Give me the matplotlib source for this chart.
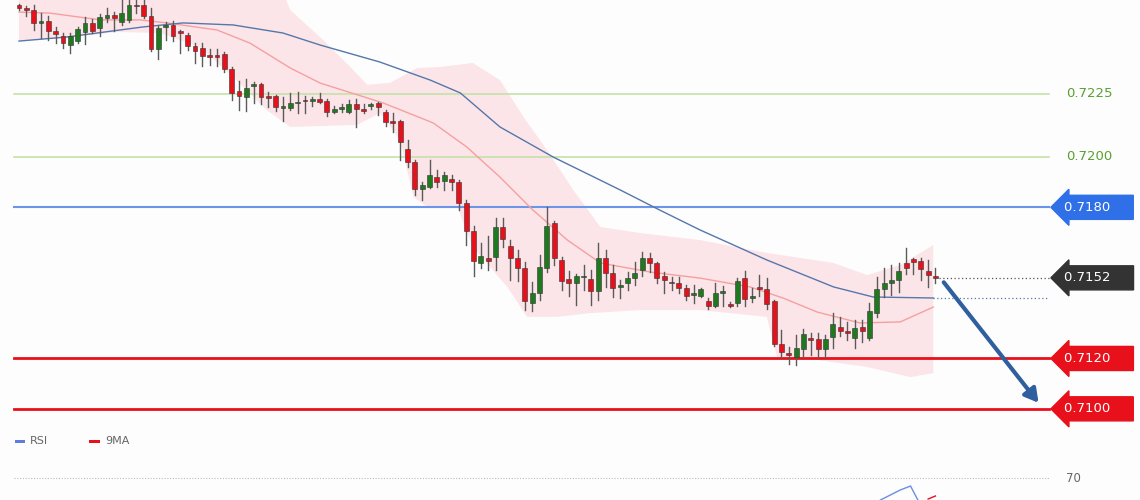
import matplotlib
matplotlib.use("Agg")
import matplotlib.pyplot as plt
import numpy as np

# ── Candles (OHLC) ──
opens = [0.72603, 0.72591, 0.72583, 0.72532, 0.72540, 0.72500, 0.72480, 0.72444, 0.72460, 0.72496,
         0.72532, 0.72512, 0.72552, 0.72563, 0.72536, 0.72544, 0.72603, 0.72603, 0.72559, 0.72428,
         0.72516, 0.72524, 0.72496, 0.72484, 0.72440, 0.72432, 0.72405, 0.72405, 0.72409, 0.72349,
         0.72262, 0.72238, 0.72282, 0.72290, 0.72242, 0.72242, 0.72194, 0.72194, 0.72214, 0.72226,
         0.72222, 0.72230, 0.72222, 0.72178, 0.72190, 0.72178, 0.72210, 0.72190, 0.72202, 0.72214,
         0.72178, 0.72139, 0.72143, 0.72031, 0.71980, 0.71873, 0.71881, 0.71920, 0.71904, 0.71912,
         0.71900, 0.71817, 0.71706, 0.71579, 0.71599, 0.71603, 0.71722, 0.71646, 0.71599, 0.71559,
         0.71420, 0.71460, 0.71559, 0.71737, 0.71591, 0.71515, 0.71499, 0.71523, 0.71515, 0.71468,
         0.71599, 0.71539, 0.71484, 0.71499, 0.71519, 0.71551, 0.71599, 0.71579, 0.71527, 0.71503,
         0.71499, 0.71480, 0.71452, 0.71448, 0.71428, 0.71408, 0.71460, 0.71416, 0.71420, 0.71519,
         0.71440, 0.71484, 0.71476, 0.71428, 0.71257, 0.71222, 0.71206, 0.71237, 0.71279, 0.71279,
         0.71237, 0.71285, 0.71325, 0.71309, 0.71281, 0.71325, 0.71281, 0.71380, 0.71476, 0.71499,
         0.71511, 0.71579, 0.71595, 0.71587, 0.71547, 0.71527]
highs = [0.72607, 0.72599, 0.72603, 0.72571, 0.72559, 0.72516, 0.72492, 0.72492, 0.72516, 0.72556,
         0.72548, 0.72567, 0.72591, 0.72575, 0.72623, 0.72623, 0.72623, 0.72623, 0.72591, 0.72520,
         0.72536, 0.72540, 0.72504, 0.72492, 0.72452, 0.72452, 0.72428, 0.72428, 0.72417, 0.72357,
         0.72301, 0.72309, 0.72297, 0.72293, 0.72258, 0.72246, 0.72238, 0.72254, 0.72258, 0.72242,
         0.72238, 0.72254, 0.72230, 0.72202, 0.72210, 0.72226, 0.72230, 0.72210, 0.72214, 0.72218,
         0.72186, 0.72174, 0.72147, 0.72067, 0.71988, 0.71900, 0.71988, 0.71948, 0.71940, 0.71928,
         0.71908, 0.71829, 0.71726, 0.71658, 0.71686, 0.71758, 0.71758, 0.71670, 0.71631, 0.71583,
         0.71503, 0.71611, 0.71801, 0.71745, 0.71603, 0.71547, 0.71535, 0.71571, 0.71551, 0.71658,
         0.71631, 0.71571, 0.71511, 0.71543, 0.71583, 0.71623, 0.71619, 0.71583, 0.71543, 0.71523,
         0.71523, 0.71492, 0.71492, 0.71480, 0.71440, 0.71499, 0.71488, 0.71424, 0.71519, 0.71547,
         0.71480, 0.71531, 0.71519, 0.71432, 0.71313, 0.71245, 0.71293, 0.71317, 0.71301, 0.71301,
         0.71293, 0.71380, 0.71365, 0.71345, 0.71353, 0.71353, 0.71420, 0.71523, 0.71559, 0.71571,
         0.71579, 0.71638, 0.71599, 0.71599, 0.71591, 0.71559]
lows = [0.72583, 0.72559, 0.72504, 0.72472, 0.72464, 0.72452, 0.72432, 0.72413, 0.72452, 0.72448,
        0.72492, 0.72480, 0.72536, 0.72500, 0.72524, 0.72536, 0.72571, 0.72552, 0.72421, 0.72389,
        0.72464, 0.72460, 0.72413, 0.72425, 0.72373, 0.72361, 0.72365, 0.72361, 0.72337, 0.72226,
        0.72186, 0.72182, 0.72214, 0.72210, 0.72198, 0.72182, 0.72143, 0.72186, 0.72174, 0.72174,
        0.72202, 0.72214, 0.72162, 0.72174, 0.72178, 0.72174, 0.72119, 0.72174, 0.72190, 0.72166,
        0.72123, 0.72099, 0.71988, 0.71960, 0.71849, 0.71829, 0.71877, 0.71881, 0.71869, 0.71869,
        0.71789, 0.71650, 0.71527, 0.71559, 0.71551, 0.71551, 0.71642, 0.71511, 0.71507, 0.71392,
        0.71388, 0.71432, 0.71543, 0.71571, 0.71472, 0.71448, 0.71412, 0.71472, 0.71412, 0.71432,
        0.71484, 0.71444, 0.71440, 0.71472, 0.71492, 0.71527, 0.71543, 0.71499, 0.71460, 0.71472,
        0.71460, 0.71432, 0.71420, 0.71444, 0.71396, 0.71404, 0.71408, 0.71404, 0.71408, 0.71408,
        0.71424, 0.71448, 0.71396, 0.71249, 0.71201, 0.71179, 0.71174, 0.71201, 0.71214, 0.71206,
        0.71201, 0.71241, 0.71289, 0.71273, 0.71241, 0.71265, 0.71273, 0.71364, 0.71444, 0.71452,
        0.71464, 0.71535, 0.71535, 0.71511, 0.71484, 0.71499]
closes = [0.72591, 0.72583, 0.72532, 0.72540, 0.72500, 0.72488, 0.72452, 0.72480, 0.72508, 0.72532,
          0.72500, 0.72556, 0.72563, 0.72552, 0.72571, 0.72603, 0.72599, 0.72559, 0.72428, 0.72512,
          0.72520, 0.72480, 0.72492, 0.72440, 0.72421, 0.72401, 0.72397, 0.72397, 0.72349, 0.72254,
          0.72242, 0.72274, 0.72290, 0.72238, 0.72234, 0.72198, 0.72202, 0.72214, 0.72218, 0.72222,
          0.72230, 0.72218, 0.72178, 0.72190, 0.72198, 0.72210, 0.72190, 0.72182, 0.72210, 0.72198,
          0.72139, 0.72135, 0.72059, 0.71980, 0.71873, 0.71889, 0.71928, 0.71900, 0.71928, 0.71900,
          0.71817, 0.71706, 0.71587, 0.71607, 0.71587, 0.71722, 0.71674, 0.71599, 0.71559, 0.71428,
          0.71460, 0.71563, 0.71726, 0.71599, 0.71507, 0.71499, 0.71527, 0.71527, 0.71468, 0.71599,
          0.71539, 0.71480, 0.71488, 0.71519, 0.71539, 0.71599, 0.71579, 0.71519, 0.71511, 0.71499,
          0.71480, 0.71448, 0.71460, 0.71476, 0.71408, 0.71460, 0.71464, 0.71408, 0.71507, 0.71436,
          0.71448, 0.71476, 0.71416, 0.71257, 0.71226, 0.71214, 0.71241, 0.71297, 0.71275, 0.71237,
          0.71279, 0.71337, 0.71309, 0.71301, 0.71321, 0.71309, 0.71388, 0.71476, 0.71499, 0.71511,
          0.71547, 0.71559, 0.71583, 0.71555, 0.71531, 0.71519]

# ── Overlays (read at sample candle positions) ──
blue_pos = [0, 6.5, 16.9, 22.4, 29.2, 36.0, 41.1, 49.2, 56.1, 60.2, 65.6, 72.9, 82.0, 87.4,
            92.9, 102.0, 111.1, 116.5, 124.7]
blue_val = [0.72460, 0.72476, 0.72516, 0.72532, 0.72524, 0.72492, 0.72444, 0.72377, 0.72305,
            0.72254, 0.72119, 0.71999, 0.71869, 0.71789, 0.71710, 0.71591, 0.71484, 0.71444, 0.71440]
red_pos = [0, 4.2, 11.1, 16.5, 20.2, 27.0, 31.5, 37.0, 41.1, 49.7, 56.5, 61.1, 65.6, 70.1,
           74.8, 79.3, 86.1, 92.9, 99.7, 104.2, 108.9, 114.7, 120.2, 124.7]
red_val = [0.72575, 0.72571, 0.72544, 0.72544, 0.72532, 0.72504, 0.72452, 0.72353, 0.72293,
           0.72214, 0.72135, 0.72039, 0.71920, 0.71789, 0.71670, 0.71579, 0.71543, 0.71519,
           0.71484, 0.71440, 0.71384, 0.71341, 0.71345, 0.71404]
up_pos = [0, 35.6, 37.0, 41.5, 45.2, 47.5, 50.6, 54.3, 57.4, 61.9, 65.6, 68.8, 72.0, 75.6,
          79.3, 84.7, 92.9, 102.0, 111.1, 115.7, 120.2, 124.7]
up_val = [0.72683, 0.72683, 0.72583, 0.72464, 0.72357, 0.72286, 0.72294, 0.72353, 0.72357,
          0.72373, 0.72305, 0.72159, 0.72028, 0.71869, 0.71722, 0.71698, 0.71670, 0.71619,
          0.71579, 0.71531, 0.71571, 0.71650]
lo_pos = [0, 6.5, 13.4, 19.2, 24.7, 29.2, 33.8, 37.0, 46.1, 49.2, 52.0, 53.8, 55.7, 59.8,
          61.9, 66.6, 69.3, 73.4, 77.9, 84.7, 92.9, 102.0, 103.4, 108.9, 115.7, 121.6, 124.7]
lo_val = [0.72464, 0.72472, 0.72496, 0.72492, 0.72436, 0.72317, 0.72186, 0.72119, 0.72127,
          0.72174, 0.72067, 0.71841, 0.71801, 0.71801, 0.71642, 0.71484, 0.71365, 0.71365,
          0.71380, 0.71392, 0.71392, 0.71365, 0.71206, 0.71194, 0.71166, 0.71126, 0.71142]

# ── Levels ──
green_levels = [0.7225, 0.7200]
blue_level = 0.7180
red_levels = [0.7120, 0.7100]
last_price = 0.7152
ma_last = 0.71440
arrow_from = (125.9, 0.71511)
arrow_to = (139.3, 0.71015)

rsi_pos = [117.5, 120.2, 121.6, 122.6]
rsi_val = [61.2, 65.2, 66.8, 61.2]
rsi_ma_pos = [124.0, 125.0]
rsi_ma_val = [61.6, 62.8]

RED = "#e8101a"
GREEN = "#1f7a1f"

fig = plt.figure(figsize=(11.4, 5.0), dpi=100)
fig.patch.set_facecolor("#fcfdfc")
ax = fig.add_axes([0, 0.14, 1, 0.86])
ax.set_facecolor("none")
ax.set_xlim(-2.59, 152.9)
ax.set_ylim(0.70916, 0.72623)
ax.axis("off")

# band
ax.fill(up_pos + lo_pos[::-1], up_val + lo_val[::-1], color="#fcdfe3", alpha=0.8, lw=0, zorder=1)
ax.plot(red_pos, red_val, color="#f5a0a0", lw=1.0, zorder=2)
ax.plot(blue_pos, blue_val, color="#5577aa", lw=1.0, zorder=2)

# levels
x0, x1 = -0.7, 140.5
for lv in green_levels:
    ax.plot([x0, x1], [lv, lv], color="#c4e2a8", lw=1.2, zorder=1.5)
    ax.text(142.8, lv, f"{lv:.4f}", color="#5aa030", fontsize=9.5, va="center")
ax.plot([x0, x1], [blue_level] * 2, color="#6a95e8", lw=1.5, zorder=1.5)
for lv in red_levels:
    ax.plot([x0, x1], [lv, lv], color=RED, lw=2.0, zorder=1.5)

ax.plot([125.5, x1], [last_price] * 2, color="#555555", lw=0.9, ls=(0, (1, 2)), zorder=2)
ax.plot([124.7, x1], [ma_last] * 2, color="#5577aa", lw=0.9, ls=(0, (1, 2)), zorder=2)

def tag(y, text, fc):
    ax.text(142.6, y, text + "    ", color="white", fontsize=9.5, va="center", ha="left",
            bbox=dict(boxstyle="larrow,pad=0.42", fc=fc, ec=fc), zorder=5)

tag(blue_level, "0.7180", "#2f6fe8")
tag(last_price, "0.7152", "#333333")
for lv in red_levels:
    tag(lv, f"{lv:.4f}", RED)

# candles
for i, (o, h, l, c) in enumerate(zip(opens, highs, lows, closes)):
    col = GREEN if c > o else RED
    ax.plot([i, i], [l, h], color="#5a5a5a", lw=1.0, zorder=3)
    lo_b, hi_b = min(o, c), max(o, c)
    hgt = max(hi_b - lo_b, 0.00006)
    ax.add_patch(plt.Rectangle((i - 0.33, lo_b), 0.66, hgt, fc=col, ec="#333333", lw=0.4, zorder=4))

ax.annotate("", xy=arrow_to, xytext=arrow_from,
            arrowprops=dict(arrowstyle="-|>,head_length=0.8,head_width=0.45",
                            color="#2f5f9e", lw=3), zorder=6)

# RSI panel
ax2 = fig.add_axes([0, 0, 1, 0.14])
ax2.set_facecolor("none")
ax2.set_xlim(-2.59, 152.9)
ax2.set_ylim(61.2, 89.2)
ax2.axis("off")
ax2.plot([x0, 140.5], [70, 70], color="#bbbbbb", lw=0.8, ls=(0, (1, 1.5)))
ax2.text(142.8, 70, "70", color="#666666", fontsize=8.5, va="center")
ax2.plot(rsi_pos, rsi_val, color="#6a8ee8", lw=1.0)
ax2.plot(rsi_ma_pos, rsi_ma_val, color=RED, lw=1.0)
ax2.add_patch(plt.Rectangle((-0.6, 84.0), 1.4, 1.2, fc="#5b7ee0", ec="none"))
ax2.text(1.5, 84.6, "RSI", color="#666666", fontsize=8, va="center")
ax2.add_patch(plt.Rectangle((9.6, 84.0), 1.4, 1.2, fc=RED, ec="none"))
ax2.text(11.7, 84.6, "9MA", color="#666666", fontsize=8, va="center")

fig.savefig("out.png", dpi=100)
